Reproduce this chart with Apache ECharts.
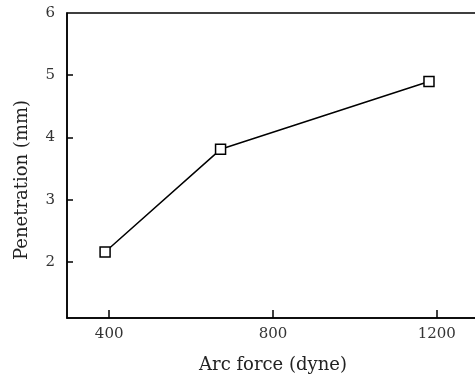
<!DOCTYPE html>
<html>
<head>
<meta charset="utf-8">
<script src="https://cdn.jsdelivr.net/npm/echarts@6/dist/echarts.min.js"></script>
<style>
  html, body { margin: 0; padding: 0; background: #fff; }
  #chart { width: 475px; height: 378px; }
</style>
</head>
<body>
<div id="chart"></div>
<script>
// arc force (dyne) vs penetration (mm)
const arcForce = [390, 672, 1181]
const penetration = [2.16, 3.81, 4.9]
const xTicks = [400, 800, 1200]
const yTicks = [2, 3, 4, 5, 6]

const font = "'DejaVu Serif', 'Liberation Serif', serif"
const chart = echarts.init(document.getElementById('chart'))

chart.setOption({
  animation: false,
  grid: {
    left: 67,
    top: 13,
    width: 423,
    height: 305,
    outerBoundsMode: 'none',
    containLabel: false,
    show: true,
    borderColor: '#000',
    borderWidth: 1.5
  },
  xAxis: {
    type: 'value',
    min: 297,
    max: 1330,
    name: 'Arc force (dyne)',
    nameLocation: 'middle',
    nameGap: 38,
    nameTextStyle: { fontFamily: font, fontSize: 18, color: '#222', padding: [0, 11, 0, 0] },
    axisLine: { lineStyle: { color: '#000', width: 1.5 } },
    axisTick: { inside: true, length: 8, customValues: xTicks, lineStyle: { color: '#000', width: 1.5 } },
    axisLabel: { customValues: xTicks, margin: 9, fontFamily: font, fontSize: 15, color: '#333', formatter: v => String(v) },
    splitLine: { show: false }
  },
  yAxis: {
    type: 'value',
    min: 1.1,
    max: 6,
    name: 'Penetration (mm)',
    nameLocation: 'middle',
    nameGap: 36,
    nameTextStyle: { fontFamily: font, fontSize: 18, color: '#222', padding: [0, 29, 0, 0] },
    axisLine: { lineStyle: { color: '#000', width: 1.5 } },
    axisTick: { inside: true, length: 6, customValues: [2, 3, 4, 5], lineStyle: { color: '#000', width: 1.5 } },
    axisLabel: { customValues: yTicks, margin: 12, fontFamily: font, fontSize: 15, color: '#333' },
    splitLine: { show: false }
  },
  series: [{
    type: 'line',
    data: arcForce.map((x, i) => [x, penetration[i]]),
    symbol: 'rect',
    symbolSize: 10,
    lineStyle: { color: '#000', width: 1.5 },
    itemStyle: { color: '#fff', borderColor: '#000', borderWidth: 1.5 }
  }]
})
</script>
</body>
</html>
